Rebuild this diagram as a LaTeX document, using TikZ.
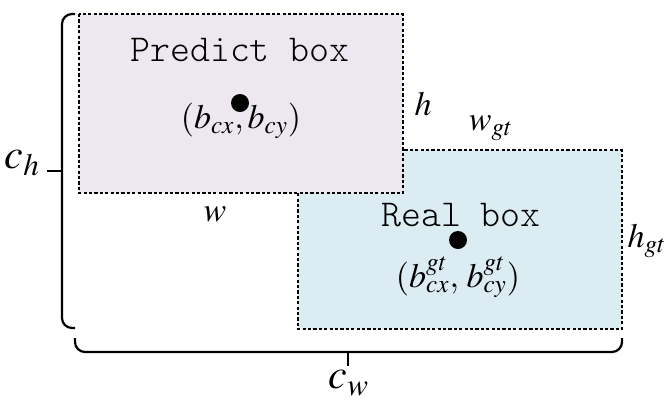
\documentclass[tikz,border=0pt]{standalone}
\usepackage{mathptmx}
\definecolor{predfill}{RGB}{236,231,240}
\definecolor{realfill}{RGB}{219,237,243}
\begin{document}
\begin{tikzpicture}[x=0.5pt,y=-0.5pt,
    box/.style={draw,line width=1pt,dash pattern=on 1.6pt off 1.1pt},
    brc/.style={line width=1.1pt,rounded corners=5pt},
    dot/.style={circle,fill=black,inner sep=0pt,minimum size=9pt},
    lbl/.style={font=\fontsize{17}{19}\selectfont},
    mono/.style={font=\fontsize{19}{21}\fontseries{l}\ttfamily\selectfont},
    big/.style={font=\fontsize{21}{23}\selectfont}]
  \useasboundingbox (0,0) rectangle (665,403);
  % hai hop
  \filldraw[box,fill=realfill] (298,150) rectangle (622,329);
  \filldraw[box,fill=predfill] (79,14) rectangle (403,193);
  % chu trong hop
  \node[mono] (pname) at (240,50) {Predict box};
  \node[dot] (pc) at (240,103) {};
  \node[lbl] (pxy) at (241,121) {$(b_{cx},b_{cy})$};
  \node[mono] (rname) at (461,215) {Real box};
  \node[dot] (rc) at (458,240) {};
  \node[lbl] (rxy) at (458,277) {$(b^{gt}_{cx},\,b^{gt}_{cy})$};
  % kich thuoc
  \node[lbl] (h) at (423,104) {$h$};
  \node[lbl] (w) at (215,214) {$w$};
  \node[lbl] (wgt) at (491,128) {$w_{gt}$};
  \node[lbl] (hgt) at (647,241) {$h_{gt}$};
  % ngoac
  \coordinate (lt) at (75,14); \coordinate (lb) at (75,328);
  \coordinate (bl) at (75,338); \coordinate (br) at (622,338);
  \coordinate (lm) at (62,171); \coordinate (bm) at (348,352);
  \draw[brc] (lt) -| (lm) |- (lb);
  \draw[brc] (bl) |- (bm) -| (br);
  \draw[line width=1.1pt] (lm) -- ++(-15,0);
  \draw[line width=1.1pt] (bm) -- ++(0,14);
  \node[big,anchor=east] (ch) at (47,163) {$c_h$};
  \node[big] (cw) at (349,383) {$c_w$};
\end{tikzpicture}
\end{document}
